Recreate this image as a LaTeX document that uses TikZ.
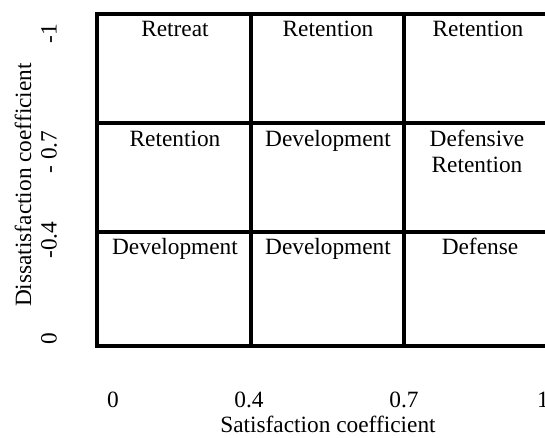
\documentclass[tikz,border=0pt]{standalone}
\usepackage{fontspec}
\setmainfont{Liberation Serif}
\usetikzlibrary{positioning}

\begin{document}
\begin{tikzpicture}[x=0.75pt,y=0.75pt,
        every node/.style={inner sep=0pt,font=\fontsize{17.5}{19.5}\selectfont},
        cell/.style={anchor=base,align=center},
        tick/.style={anchor=base},
        ytick/.style={rotate=90},
        gridline/.style={line width=3pt}]
        \useasboundingbox (0,0) rectangle (545,438);
        %网格
            \draw [gridline,line join=miter] (545,424) -- (97,424) -- (97,92) -- (545,92);
            \draw [gridline] (97,315) -- (545,315) (97,206) -- (545,206);
            \draw [gridline] (251,424) -- (251,92) (404,424) -- (404,92);
        %格内文字
            \node[cell] (c11) at (175,401) {Retreat};
            \node[cell] (c12) at (328,401) {Retention};
            \node[cell] (c13) at (478,401) {Retention};
            \node[cell] (c21) at (175,291) {Retention};
            \node[cell] (c22) at (328,291) {Development};
            \node[cell] (c23) at (477,265) {Defensive\\Retention};
            \node[cell] (c31) at (175,183) {Development};
            \node[cell] (c32) at (328,183) {Development};
            \node[cell] (c33) at (480,183) {Defense};
        %横轴
            \node[tick] (x0) at (113,30) {0};
            \node[tick] (x1) at (249,30) {0.4};
            \node[tick] (x2) at (404,30) {0.7};
            \node[tick] (x3) at (543,30) {1};
            \node[tick] (xlab) at (328,5) {Satisfaction coefficient};
        %纵轴
            \node[ytick] (y0) at (49,99) {0};
            \node[ytick] (y1) at (49,198) {-0.4};
            \node[ytick] (y2) at (49,286) {- 0.7};
            \node[ytick] (y3) at (49,404) {-1};
            \node[ytick] (ylab) at (23,253) {Dissatisfaction coefficient};
\end{tikzpicture}
\end{document}
